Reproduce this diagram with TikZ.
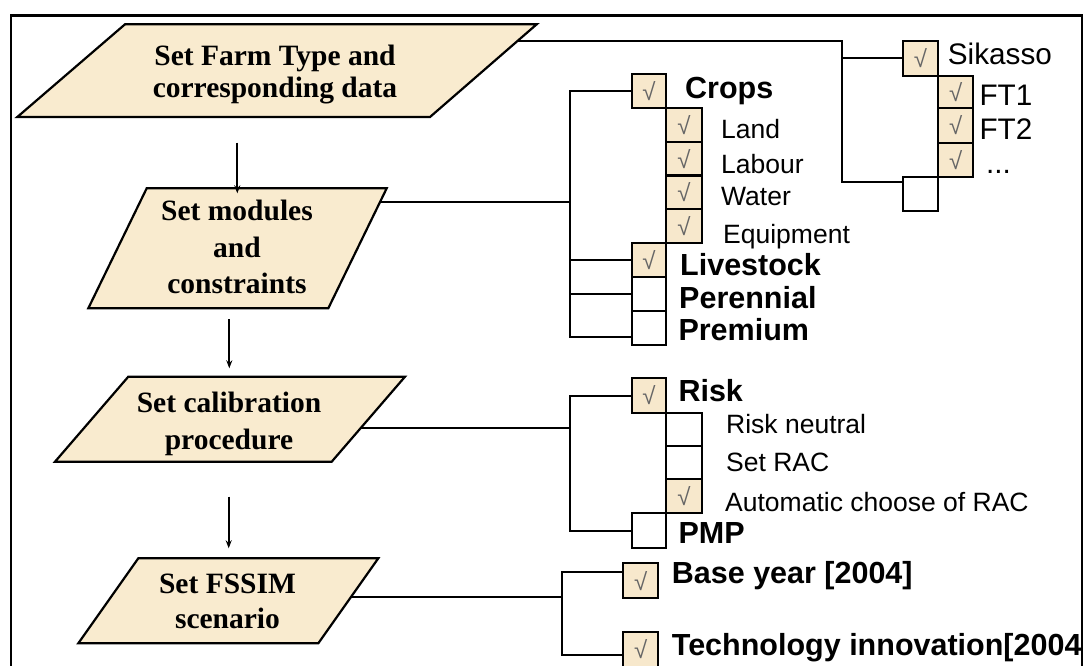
\documentclass[tikz,border=0pt]{standalone}
\usepackage{fontspec}
\setmainfont{Liberation Sans}
\newfontfamily\tnrfont{Liberation Serif}
\newfontfamily\ckfont{Liberation Sans}
\usetikzlibrary{arrows.meta}
\definecolor{beige}{RGB}{249,235,207}
\definecolor{boxfill}{RGB}{247,232,204}
\newcommand\ckmark{{\color{black!60}\ckfont\fontsize{24}{24}\selectfont √}}
\begin{document}
\begin{tikzpicture}[x=1pt,y=-1pt,
  frame/.style={line width=2.6pt},
  para/.style={draw=black,fill=beige,line width=2.2pt,line join=miter},
  ptext/.style={font=\tnrfont\bfseries\fontsize{29.5}{36.7}\selectfont,align=center,inner sep=0},
  wire/.style={line width=2pt,line join=miter},
  arr/.style={line width=1.8pt,-{Stealth[length=8pt,width=6pt]}},
  cbox/.style={draw=black,line width=2.2pt,fill=boxfill,inner sep=0},
  ebox/.style={draw=black,line width=2.2pt,fill=white,inner sep=0},
  slab/.style={anchor=base west,inner sep=0,font=\fontsize{29.7}{30}\selectfont},
  rlab/.style={anchor=base west,inner sep=0,font=\fontsize{26.5}{27}\selectfont},
  blab/.style={anchor=base west,inner sep=0,font=\bfseries\fontsize{30.5}{31}\selectfont}]
\useasboundingbox (0,0) rectangle (1087,666);
\clip (0,0) rectangle (1087,666);
\fill[white] (0,0) rectangle (1087,666);
\draw[frame] (11,15.7) rectangle (1082,700);

% parallelograms
\draw[para] (125,24.3) -- (536.7,24.3) -- (430,117) -- (17.3,117) -- cycle;
\draw[para] (146.7,188.3) -- (386.7,188.3) -- (328.3,308.3) -- (88.3,308.3) -- cycle;
\draw[para] (128.3,376.7) -- (405,376.7) -- (331.7,461.7) -- (55,461.7) -- cycle;
\draw[para] (138.3,558.3) -- (378.3,558.3) -- (318.3,643.3) -- (78.3,643.3) -- cycle;
\node[ptext,font=\tnrfont\bfseries\fontsize{29.5}{31.7}\selectfont] (t1) at (275,74.4) {Set Farm Type and\\corresponding data};
\node[ptext] (t2) at (237,247) {Set modules\\and\\constraints};
\node[ptext] (t3) at (229,424) {Set calibration\\procedure};
\node[ptext,font=\tnrfont\bfseries\fontsize{29.5}{35}\selectfont] (t4) at (227.5,601.3) {Set FSSIM\\scenario};

% arrows
\coordinate (a1s) at (237.3,142.7); \coordinate (a1e) at (237.3,193.3);
\coordinate (a2s) at (229.3,319.3); \coordinate (a2e) at (229.3,368.3);
\coordinate (a3s) at (228.7,496.7); \coordinate (a3e) at (228.7,548.3);
\draw[arr] (a1s) -- (a1e);
\draw[arr] (a2s) -- (a2e);
\draw[arr] (a3s) -- (a3e);

% Sikasso tree
\node[cbox,minimum width=35.6pt,minimum height=35pt] (sik) at (920.5,58.5) {\ckmark};
\node[cbox,minimum width=35pt,minimum height=32.3pt] (ft1) at (955.8,92.2) {\ckmark};
\node[cbox,minimum width=35pt,minimum height=34.4pt] (ft2) at (955.8,125.5) {\ckmark};
\node[cbox,minimum width=35pt,minimum height=34pt] (ftd) at (955.8,159.7) {\ckmark};
\node[ebox,minimum width=35.6pt,minimum height=34pt] (sik2) at (920.5,193.7) {};
\node[slab] (lsik) at (947.7,65) {Sikasso};
\node[slab] (lft1) at (979.3,106) {FT1};
\node[slab] (lft2) at (979.3,140) {FT2};
\node[slab] (lftd) at (986,174) {...};

% Crops tree
\node[cbox,minimum width=34.3pt,minimum height=34.3pt] (crops) at (648.85,91.15) {\ckmark};
\node[cbox,minimum width=35.7pt,minimum height=33.6pt] (land) at (683.85,125.1) {\ckmark};
\node[cbox,minimum width=35.7pt,minimum height=33.6pt] (labour) at (683.85,158.7) {\ckmark};
\node[cbox,minimum width=35.7pt,minimum height=33.6pt] (water) at (683.85,192.3) {\ckmark};
\node[cbox,minimum width=35.7pt,minimum height=33.6pt] (equip) at (683.85,225.9) {\ckmark};
\node[cbox,minimum width=34.3pt,minimum height=34.1pt] (live) at (648.85,259.75) {\ckmark};
\node[ebox,minimum width=34.3pt,minimum height=34.1pt] (peren) at (648.85,293.85) {};
\node[ebox,minimum width=34.3pt,minimum height=34.1pt] (prem) at (648.85,327.95) {};
\node[blab] (lcrops) at (685,98.3) {Crops};
\node[rlab] (lland) at (721,138.3) {Land};
\node[rlab] (llab) at (721,173.3) {Labour};
\node[rlab] (lwat) at (721,205) {Water};
\node[rlab] (lequ) at (723,243.3) {Equipment};
\node[blab] (llive) at (680,275) {Livestock};
\node[blab] (lper) at (679,308.3) {Perennial};
\node[blab] (lprem) at (678.3,340) {Premium};

% Risk tree
\node[cbox,minimum width=34.3pt,minimum height=34.4pt] (risk) at (648.85,395.5) {\ckmark};
\node[ebox,minimum width=35.7pt,minimum height=33.3pt] (neut) at (683.85,429.35) {};
\node[ebox,minimum width=35.7pt,minimum height=33.3pt] (srac) at (683.85,462.65) {};
\node[cbox,minimum width=35.7pt,minimum height=34pt] (arac) at (683.85,496.3) {\ckmark};
\node[ebox,minimum width=34.3pt,minimum height=35pt] (pmp) at (648.85,530.8) {};
\node[blab] (lrisk) at (678.3,401.7) {Risk};
\node[rlab] (lneut) at (726,433.3) {Risk neutral};
\node[rlab] (lsrac) at (726,471.7) {Set RAC};
\node[rlab] (larac) at (725,511.7) {Automatic choose of RAC};
\node[blab] (lpmp) at (678.3,543) {PMP};

% Scenario tree
\node[cbox,minimum width=35pt,minimum height=35pt] (base) at (640.8,580.8) {\ckmark};
\node[cbox,minimum width=35pt,minimum height=35pt] (tech) at (640.8,649.2) {\ckmark};
\node[blab] (lbase) at (671.7,583.3) {Base year [2004]};
\node[blab] (ltech) at (671.7,655) {Technology innovation[2004};

% connectors
\coordinate (p1r) at (517.5,41);
\coordinate (s1) at (841.7,41);
\coordinate (sb) at ([yshift=-6pt]sik2.north west);
\draw[wire] (p1r) -- (s1) |- (sb);
\draw[wire] (s1 |- sik.west) -- (sik.west);

\coordinate (p2r) at (380.2,201.7);
\coordinate (c2) at (570,201.7);
\coordinate (pb) at ([yshift=9pt]prem.south west);
\draw[wire] (p2r) -- (c2);
\draw[wire] (crops.west) -| (c2) |- (pb);
\draw[wire] (c2 |- live.west) -- (live.west);
\draw[wire] (c2 |- peren.west) -- (peren.west);

\coordinate (p3r) at (360.5,428.3);
\coordinate (c3) at (570,428.3);
\draw[wire] (p3r) -- (c3);
\draw[wire] (risk.west) -| (c3) |- (pmp.west);

\coordinate (p4r) at (351.2,596.7);
\coordinate (c4) at (561.7,596.7);
\coordinate (bb) at ([yshift=9pt]base.west);
\coordinate (tb) at ([yshift=-6pt]tech.west);
\draw[wire] (p4r) -- (c4);
\draw[wire] (bb) -| (c4) |- (tb);
\end{tikzpicture}
\end{document}
